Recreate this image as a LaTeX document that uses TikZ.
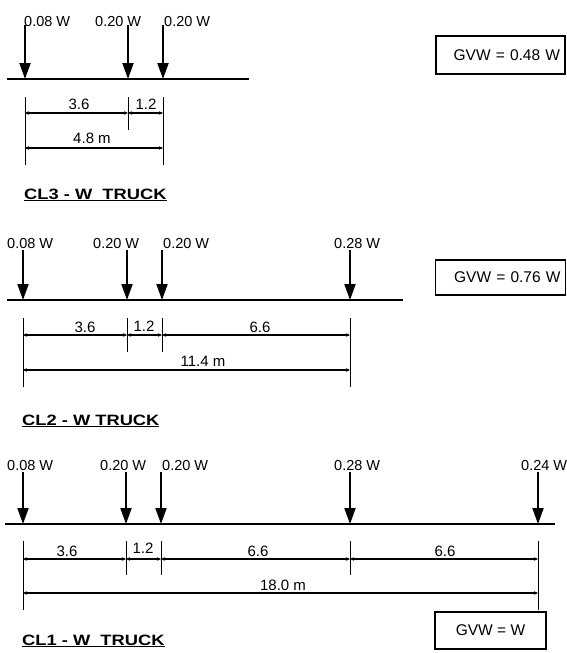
\documentclass[tikz,border=0pt]{standalone}
\usepackage{fontspec}
\setmainfont{Liberation Sans}
\usepackage{graphicx}
\usetikzlibrary{arrows.meta}
\tikzset{
  load/.style={line width=2pt,-{Triangle[length=16pt,width=11pt]}},
  beam/.style={line width=1.5pt},
  ext/.style={line width=1pt},
  dimline/.style={line width=1.1pt,{Stealth[length=4pt,width=3.5pt]}-{Stealth[length=4pt,width=3.5pt]}},
  lbl/.style={anchor=base west,inner sep=0pt,font=\fontsize{14.5}{16}\selectfont},
  dimlbl/.style={anchor=base,inner sep=0pt,font=\fontsize{15}{17}\selectfont},
  ttl/.style={anchor=base west,inner sep=0pt,font=\bfseries\fontsize{15}{17}\selectfont},
  gvwbox/.style={draw,line width=1.2pt,inner ysep=0pt,inner xsep=5pt,font=\fontsize{15.5}{17}\selectfont},
}
\newcommand{\trucktitle}[1]{\underline{\scalebox{1.22}[1]{#1}}}
\begin{document}
\begin{tikzpicture}[x=1pt,y=-1pt]
\useasboundingbox (0,0) rectangle (566,653);
% CL3 truck
\draw[beam] (7,79) -- (249,79);
\foreach \x in {25,128,163} \draw[load] (\x,25) -- (\x,79);
\node[lbl] (cl3a) at (24,26) {0.08 W};
\node[lbl] (cl3b) at (95,26) {0.20 W};
\node[lbl] (cl3c) at (164,26) {0.20 W};
\foreach \x in {25,163} \draw[ext] (\x,97) -- (\x,165);
\draw[ext] (128,97) -- (128,130);
\draw[dimline] (25,113) -- (128,113);
\draw[dimline] (128,113) -- (163,113);
\draw[dimline] (25,148) -- (163,148);
\node[dimlbl] at (79,109) {3.6};
\node[dimlbl] at (146,109) {1.2};
\node[dimlbl] at (92,143) {4.8 m};
\node[ttl] (cl3) at (24,199) {\trucktitle{CL3 - W\ \ TRUCK}};
\node[gvwbox,text width=119pt,align=right,minimum height=38pt] (gvw3) at (500.5,55) {GVW = 0.48 W};
% CL2 truck
\draw[beam] (7,300) -- (403,300);
\foreach \x in {23,127,162,350} \draw[load] (\x,250) -- (\x,300);
\node[lbl] (cl2a) at (7,248) {0.08 W};
\node[lbl] (cl2b) at (93,248) {0.20 W};
\node[lbl] (cl2c) at (163,248) {0.20 W};
\node[lbl] (cl2d) at (334,248) {0.28 W};
\foreach \x in {23,350} \draw[ext] (\x,318) -- (\x,387);
\foreach \x in {127,162} \draw[ext] (\x,318) -- (\x,352);
\draw[dimline] (23,335) -- (127,335);
\draw[dimline] (127,335) -- (162,335);
\draw[dimline] (162,335) -- (350,335);
\draw[dimline] (23,370) -- (350,370);
\node[dimlbl] at (85,332) {3.6};
\node[dimlbl] at (144,331) {1.2};
\node[dimlbl] at (260,332) {6.6};
\node[dimlbl] at (203,366) {11.4 m};
\node[ttl] (cl2) at (22,425) {\trucktitle{CL2 - W TRUCK}};
\node[gvwbox,text width=120pt,align=right,minimum height=35pt] (gvw2) at (500.5,277.5) {GVW = 0.76 W};
% CL1 truck
\draw[beam] (5,524) -- (555,524);
\foreach \x in {23,126,161,350,538} \draw[load] (\x,472) -- (\x,524);
\node[lbl] (cl1a) at (7,470) {0.08 W};
\node[lbl] (cl1b) at (100,470) {0.20 W};
\node[lbl] (cl1c) at (162,470) {0.20 W};
\node[lbl] (cl1d) at (334,470) {0.28 W};
\node[lbl] (cl1e) at (521,470) {0.24 W};
\foreach \x in {23,538} \draw[ext] (\x,541) -- (\x,610);
\foreach \x in {126,161,350} \draw[ext] (\x,541) -- (\x,575);
\draw[dimline] (23,559) -- (126,559);
\draw[dimline] (126,559) -- (161,559);
\draw[dimline] (161,559) -- (350,559);
\draw[dimline] (350,559) -- (538,559);
\draw[dimline] (23,593) -- (538,593);
\node[dimlbl] at (67,556) {3.6};
\node[dimlbl] at (143,553) {1.2};
\node[dimlbl] at (258,556) {6.6};
\node[dimlbl] at (445,556) {6.6};
\node[dimlbl] at (283,590) {18.0 m};
\node[ttl] (cl1) at (22,645) {\trucktitle{CL1 - W\ \ TRUCK}};
\node[gvwbox,minimum width=111pt,minimum height=37pt] (gvw1) at (490.5,630.5) {GVW = W};
\end{tikzpicture}
\end{document}
